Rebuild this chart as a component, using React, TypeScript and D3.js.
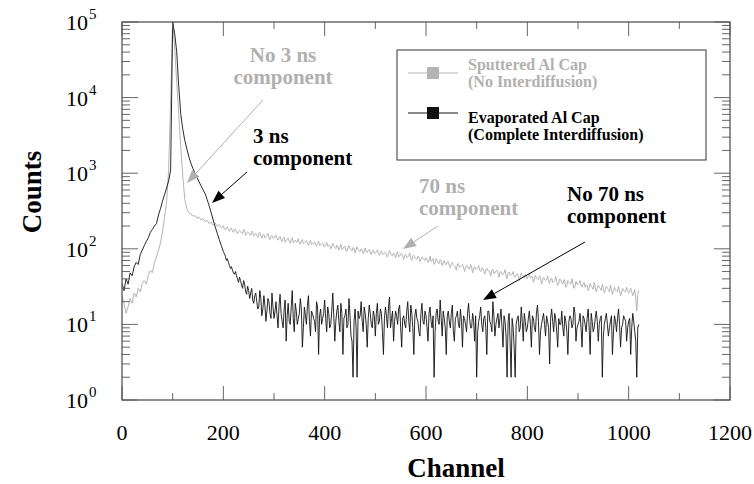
import React from 'react';
import * as d3 from 'd3';

// Channel grid: main values every 4 channels (0..1020); extra mid-points every 4 channels from 202..1018
const CHANNEL_STEP = 4;
const MID_START = 200;

// Sputtered Al Cap (No Interdiffusion) - gray, channels 0,4,...,1020
const sputtered = [
  24, 19, 14, 17, 22, 19, 26, 23, 30, 27,
  35, 38, 34, 45, 52, 48, 66, 78, 95, 120,
  170, 260, 420, 1100, 9000, 100000, 45000, 16000, 6000, 2200,
  900, 450, 340, 300, 290, 270, 275, 255, 262, 240,
  250, 228, 238, 215, 226, 205, 218, 198, 210, 190,
  200, 178, 196, 170, 188, 165, 182, 158, 175, 162, 180, 150, 168, 155, 172, 148, 160, 142, 165, 138, 155, 145, 160, 132, 150,
  138, 152, 130, 146, 125, 142, 128, 138, 118, 140, 126, 122, 136, 115, 132, 120, 128, 110, 130, 116, 124, 108, 126, 112, 120,
  106, 122, 110, 100, 118, 104, 112, 96, 115, 100, 108, 92, 110, 98, 104, 88, 106, 94, 100, 86, 102, 90, 98, 84, 96,
  88, 97, 82, 94, 85, 90, 78, 95, 83, 88, 76, 92, 80, 86, 72, 84, 78, 88, 70, 82, 75, 80, 68, 78, 72,
  76, 66, 80, 70, 62, 74, 64, 72, 60, 70, 62, 68, 56, 66, 60, 52, 64, 58, 62, 50, 60, 55, 62, 48, 58,
  54, 60, 50, 56, 46, 55, 52, 44, 54, 48, 52, 42, 50, 46, 53, 40, 49, 45, 50, 42, 47, 38, 48, 43, 46,
  40, 47, 42, 36, 45, 40, 44, 34, 42, 38, 44, 35, 41, 37, 43, 33, 40, 36, 39, 31, 38, 35, 40, 30, 37,
  34, 38, 31, 36, 33, 28, 35, 31, 36, 27, 33, 30, 34, 26, 32, 29, 33, 25, 31, 28, 32, 24, 30, 27, 31,
  26, 30, 24, 29, 15, 28,
];

// Sputtered mid-points, channels 202,206,...,1018
const sputteredMid = [
  185, 190, 176, 184, 172, 178, 166, 170, 168, 158, 172, 160, 162, 150, 164, 155, 150, 158, 148, 152, 140, 150, 142, 146, 140,
  144, 136, 140, 132, 138, 122, 134, 126, 132, 120, 130, 124, 118, 128, 116, 124, 118, 122, 114, 120, 112, 118, 110, 116, 108,
  114, 108, 112, 106, 110, 100, 108, 104, 98, 106, 96, 104, 100, 94, 102, 96, 98, 92, 97, 94, 90, 95, 88, 93, 87,
  92, 86, 90, 84, 88, 82, 86, 88, 80, 84, 86, 78, 85, 79, 82, 76, 80, 74, 80, 76, 73, 78, 72, 75, 70,
  72, 70, 68, 74, 66, 70, 64, 68, 66, 62, 67, 60, 64, 62, 58, 63, 57, 60, 58, 56, 59, 54, 57, 55, 53,
  56, 52, 55, 50, 53, 51, 49, 52, 47, 51, 48, 49, 46, 48, 44, 47, 45, 46, 43, 45, 44, 42, 44, 41, 43,
  44, 41, 43, 40, 41, 39, 42, 38, 40, 39, 37, 40, 36, 38, 37, 35, 38, 34, 37, 33, 36, 34, 35, 32, 34,
  35, 33, 34, 31, 33, 30, 32, 29, 31, 30, 31, 28, 30, 29, 30, 27, 29, 28, 28, 27, 28, 26, 28, 27, 28,
  28, 27, 26, 22, 25,
];

// Evaporated Al Cap (Complete Interdiffusion) - black, channels 0,4,...,1020
const evaporated = [
  35, 28, 40, 34, 48, 44, 58, 66, 62, 84,
  96, 110, 125, 140, 165, 180, 200, 215, 280, 340,
  430, 520, 640, 790, 1100, 100000, 70000, 40000, 14000, 6000,
  3800, 2700, 2100, 1650, 1350, 1150, 1000, 880, 770, 680,
  600, 540, 450, 370, 300, 240, 195, 160, 132, 110,
  92, 80, 74, 60, 58, 48, 50, 40, 42, 33, 38, 27, 32, 22, 30, 19, 26, 16, 28, 13, 24, 11, 22, 14, 26,
  12, 20, 9, 25, 11, 16, 6, 19, 10, 28, 8, 15, 12, 22, 5, 17, 10, 24, 7, 14, 11, 20, 4, 16, 12,
  21, 8, 14, 10, 26, 6, 15, 11, 19, 4, 13, 9, 22, 7, 2, 16, 2, 12, 20, 8, 14, 5, 18, 10, 15,
  7, 19, 11, 14, 4, 17, 9, 23, 12, 6, 15, 10, 18, 5, 13, 9, 20, 8, 14, 4, 16, 11, 7, 19, 10,
  13, 6, 17, 9, 2, 14, 11, 21, 7, 12, 4, 15, 9, 18, 6, 13, 10, 16, 5, 12, 8, 19, 9, 14, 6,
  2, 11, 17, 8, 13, 4, 15, 10, 20, 7, 12, 9, 16, 5, 11, 2, 14, 2, 9, 2, 12, 8, 17, 6, 11,
  9, 15, 5, 12, 8, 18, 4, 10, 14, 7, 11, 3, 16, 8, 12, 5, 10, 15, 7, 11, 4, 13, 9, 17, 6,
  10, 14, 5, 12, 8, 16, 4, 11, 9, 15, 6, 12, 2, 10, 14, 7, 11, 4, 13, 8, 16, 5, 10, 12, 6,
  11, 4, 14, 8, 2, 10,
];

// Evaporated mid-points, channels 202,206,...,1018
const evaporatedMid = [
  86, 70, 66, 55, 52, 46, 44, 36, 38, 30, 34, 25, 28, 26, 21, 24, 20, 17, 22, 16, 18, 15, 20, 12, 17,
  15, 13, 18, 14, 9, 21, 13, 11, 17, 12, 19, 10, 14, 16, 9, 13, 18, 11, 15, 12, 8, 17, 13, 10, 14,
  12, 17, 9, 15, 13, 11, 18, 8, 14, 12, 16, 10, 13, 6, 11, 9, 15, 13, 11, 17, 10, 12, 14, 9, 13,
  14, 10, 16, 8, 12, 13, 17, 9, 15, 11, 13, 16, 9, 12, 10, 15, 11, 18, 9, 13, 12, 8, 14, 11, 15,
  9, 14, 11, 13, 8, 16, 10, 12, 15, 9, 13, 11, 14, 8, 12, 15, 9, 11, 13, 10, 14, 12, 9, 11, 13,
  8, 13, 10, 12, 9, 15, 11, 8, 13, 10, 14, 12, 9, 13, 7, 11, 6, 12, 5, 10, 13, 9, 11, 14, 8,
  12, 10, 13, 9, 14, 11, 8, 12, 10, 13, 9, 12, 11, 14, 8, 12, 10, 9, 13, 8, 11, 12, 10, 14, 9,
  11, 9, 13, 10, 12, 9, 14, 8, 12, 11, 10, 13, 7, 12, 10, 9, 13, 8, 11, 12, 10, 9, 13, 11, 9,
  12, 9, 11, 6, 9,
];

const xTickValues = [0, 200, 400, 600, 800, 1000, 1200];
const xMinorValues = [100, 300, 500, 700, 900, 1100];
const yExponents = [0, 1, 2, 3, 4, 5];

const legendItems = [
  { lines: ['Sputtered Al Cap', '(No Interdiffusion)'], color: '#b4b4b4', text: '#b0b0b0' },
  { lines: ['Evaporated Al Cap', '(Complete Interdiffusion)'], color: '#111111', text: '#000000' },
];

const FONT = '"Liberation Serif", "Times New Roman", Times, serif';
const GRAY = '#b0b0b0';

function buildSeries(main: number[], mid: number[]): [number, number][] {
  const pts: [number, number][] = [];
  main.forEach((v, i) => {
    const ch = i * CHANNEL_STEP;
    pts.push([ch, v]);
    if (ch >= MID_START) {
      const j = (ch - MID_START) / CHANNEL_STEP;
      if (j < mid.length) pts.push([ch + CHANNEL_STEP / 2, mid[j]]);
    }
  });
  return pts;
}

function Arrow({ x1, y1, x2, y2, color }: { x1: number; y1: number; x2: number; y2: number; color: string }) {
  const dx = x2 - x1;
  const dy = y2 - y1;
  const len = Math.sqrt(dx * dx + dy * dy);
  const ux = dx / len;
  const uy = dy / len;
  const hl = 13;
  const hw = 5;
  const bx = x2 - ux * hl;
  const by = y2 - uy * hl;
  const pts = `${x2},${y2} ${bx - uy * hw},${by + ux * hw} ${bx + uy * hw},${by - ux * hw}`;
  return (
    <g>
      <line x1={x1} y1={y1} x2={bx} y2={by} stroke={color} strokeWidth={1} />
      <polygon points={pts} fill={color} />
    </g>
  );
}

export default function App() {
  const left = 122, right = 730, top = 22, bottom = 400;
  const x = d3.scaleLinear().domain([0, 1200]).range([left, right]);
  const y = d3.scaleLog().domain([1, 1e5]).range([bottom, top]);

  const line = d3
    .line<[number, number]>()
    .x((d) => x(d[0]))
    .y((d) => y(d[1]));

  const grayPts = buildSeries(sputtered, sputteredMid);
  const blackPts = buildSeries(evaporated, evaporatedMid);

  const minorY: number[] = [];
  for (let e = 0; e < 5; e++) for (let m = 2; m <= 9; m++) minorY.push(m * Math.pow(10, e));

  const ts = { fontFamily: FONT };

  return (
    <svg width={754} height={484} style={{ position: 'absolute', left: 0, top: 0, background: '#fff' }}>
      <defs>
        <clipPath id="plotClip">
          <rect x={left} y={top} width={right - left} height={bottom - top} />
        </clipPath>
      </defs>
      <rect x={0} y={0} width={754} height={484} fill="#fff" />

      {/* data */}
      <g clipPath="url(#plotClip)">
        <path d={line(grayPts) || ''} fill="none" stroke="#b4b4b4" strokeWidth={1} />
        <path d={line(blackPts) || ''} fill="none" stroke="#111" strokeWidth={0.9} />
      </g>

      {/* ticks */}
      <g stroke="#666" strokeWidth={1}>
        {xTickValues.map((t) => (
          <g key={'xt' + t}>
            <line x1={x(t)} x2={x(t)} y1={bottom} y2={bottom - 14} />
            <line x1={x(t)} x2={x(t)} y1={top} y2={top + 14} />
          </g>
        ))}
        {xMinorValues.map((t) => (
          <g key={'xm' + t}>
            <line x1={x(t)} x2={x(t)} y1={bottom} y2={bottom - 7} />
            <line x1={x(t)} x2={x(t)} y1={top} y2={top + 7} />
          </g>
        ))}
        {yExponents.map((e) => (
          <g key={'yt' + e}>
            <line x1={left} x2={left + 16} y1={y(Math.pow(10, e))} y2={y(Math.pow(10, e))} />
            <line x1={right} x2={right - 16} y1={y(Math.pow(10, e))} y2={y(Math.pow(10, e))} />
          </g>
        ))}
        {minorY.map((v) => (
          <g key={'ym' + v}>
            <line x1={left} x2={left + 8} y1={y(v)} y2={y(v)} />
            <line x1={right} x2={right - 8} y1={y(v)} y2={y(v)} />
          </g>
        ))}
      </g>

      {/* frame */}
      <rect x={left} y={top} width={right - left} height={bottom - top} fill="none" stroke="#555" strokeWidth={1.3} />

      {/* tick labels */}
      {xTickValues.map((t) => (
        <text key={'xl' + t} x={x(t)} y={440} fontSize={22} textAnchor="middle" fill="#000" style={ts}>
          {t}
        </text>
      ))}
      {yExponents.map((e) => (
        <g key={'yl' + e}>
          <text x={88} y={y(Math.pow(10, e)) + 8} fontSize={22} textAnchor="end" fill="#000" style={ts}>
            10
          </text>
          <text x={89} y={y(Math.pow(10, e)) - 3} fontSize={15} textAnchor="start" fill="#000" style={ts}>
            {e}
          </text>
        </g>
      ))}

      {/* axis titles */}
      <text x={456} y={477} fontSize={27} fontWeight="bold" textAnchor="middle" fill="#000" style={ts}>
        Channel
      </text>
      <text
        transform="translate(41,192) rotate(-90)"
        fontSize={27}
        fontWeight="bold"
        textAnchor="middle"
        fill="#000"
        style={ts}
      >
        Counts
      </text>

      {/* legend */}
      <rect x={397} y={50} width={309} height={110} fill="#fff" stroke="#555" strokeWidth={1.2} />
      {legendItems.map((it, i) => {
        const ly = i === 0 ? 73 : 113;
        const tb = i === 0 ? 70 : 123;
        return (
          <g key={'lg' + i}>
            <line x1={408} x2={458} y1={ly} y2={ly} stroke={it.color} strokeWidth={1} />
            <rect x={427} y={ly - 6} width={12} height={12} fill={it.color} />
            {it.lines.map((s, j) => (
              <text key={j} x={468} y={tb + j * 17} fontSize={16} fontWeight="bold" fill={it.text} style={ts}>
                {s}
              </text>
            ))}
          </g>
        );
      })}

      {/* annotations */}
      <g fontSize={21} fontWeight="bold" style={ts}>
        <text x={283} y={62} textAnchor="middle" fill={GRAY}>No 3 ns</text>
        <text x={283} y={84} textAnchor="middle" fill={GRAY}>component</text>
        <text x={253} y={143} fill="#000">3 ns</text>
        <text x={253} y={165} fill="#000">component</text>
        <text x={419} y={193} fill={GRAY}>70 ns</text>
        <text x={419} y={215} fill={GRAY}>component</text>
        <text x={567} y={201} fill="#000">No 70 ns</text>
        <text x={567} y={223} fill="#000">component</text>
      </g>
      <Arrow x1={263} y1={100} x2={187} y2={183} color={GRAY} />
      <Arrow x1={247} y1={172} x2={212} y2={203} color="#000" />
      <Arrow x1={438} y1={226} x2={403} y2={249} color={GRAY} />
      <Arrow x1={585} y1={242} x2={483} y2={300} color="#000" />
    </svg>
  );
}
